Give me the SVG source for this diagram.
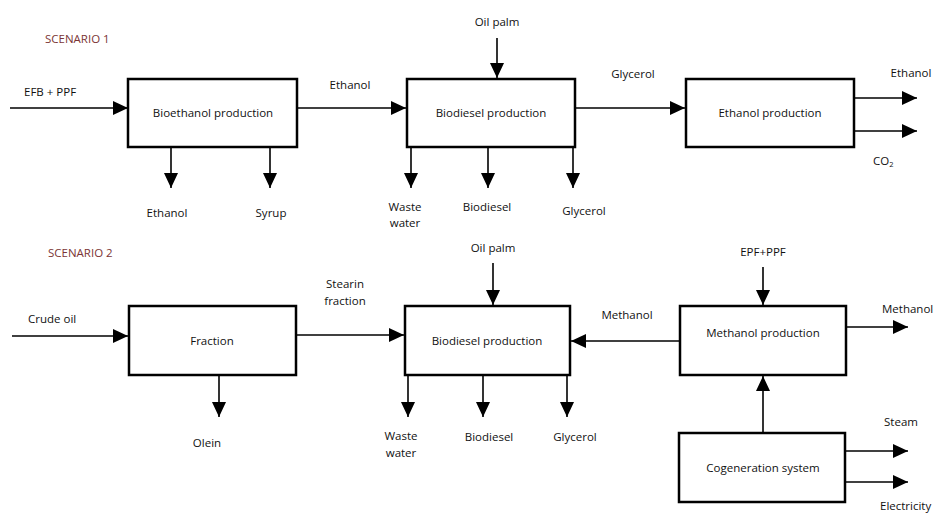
<svg xmlns="http://www.w3.org/2000/svg" width="937" height="516" viewBox="0 0 937 516">
<defs>
<marker id="ah" markerUnits="userSpaceOnUse" markerWidth="16" markerHeight="16" refX="15" refY="7" orient="auto">
<path d="M0,0 L15,7 L0,14 Z" fill="#000"/>
</marker>
<style>
text{font-family:"Open Sans","Noto Sans","Liberation Sans",sans-serif;font-size:11.5px;fill:#111}
.sc{fill:#7b3535}
.m{text-anchor:middle}
.box rect{fill:#fff;stroke:#000;stroke-width:2.5}
.c line{stroke:#000;stroke-width:1.6;fill:none}
.c line.a{marker-end:url(#ah)}
</style>
</defs>
<rect width="937" height="516" fill="#fff"/>
<text class="sc" x="45" y="43">SCENARIO 1</text>
<text class="sc" x="48" y="257">SCENARIO 2</text>

<g id="connectors" class="c">
<!-- scenario 1 -->
<line class="a" x1="10" y1="108" x2="128" y2="108"/>
<line class="a" x1="171" y1="147" x2="171" y2="188"/>
<line class="a" x1="270" y1="147" x2="270" y2="188"/>
<line class="a" x1="297" y1="108" x2="406" y2="108"/>
<line class="a" x1="497" y1="38" x2="497" y2="78"/>
<line class="a" x1="411" y1="147" x2="411" y2="188"/>
<line class="a" x1="488" y1="147" x2="488" y2="188"/>
<line class="a" x1="573" y1="147" x2="573" y2="188"/>
<line class="a" x1="575" y1="108" x2="685" y2="108"/>
<line class="a" x1="854" y1="98" x2="917" y2="98"/>
<line class="a" x1="852" y1="131" x2="917" y2="131"/>
<!-- scenario 2 -->
<line class="a" x1="12" y1="336" x2="128" y2="336"/>
<line class="a" x1="219" y1="375" x2="219" y2="417"/>
<line class="a" x1="296" y1="335" x2="404" y2="335"/>
<line class="a" x1="493" y1="263" x2="493" y2="305"/>
<line class="a" x1="408" y1="375" x2="408" y2="417"/>
<line class="a" x1="483" y1="375" x2="483" y2="417"/>
<line class="a" x1="567" y1="375" x2="567" y2="417"/>
<line class="a" x1="680" y1="341" x2="571" y2="341"/>
<line class="a" x1="763" y1="267" x2="763" y2="305"/>
<line class="a" x1="846" y1="327" x2="908" y2="327"/>
<line class="a" x1="763" y1="433" x2="763" y2="376"/>
<line class="a" x1="845" y1="451" x2="908" y2="451"/>
<line class="a" x1="845" y1="482" x2="908" y2="482"/>
</g>

<g id="bioethanol" class="box">
<rect x="128" y="79" width="169" height="68"/>
<text class="m" x="213" y="117">Bioethanol production</text>
</g>
<g id="biodiesel1" class="box">
<rect x="407" y="79" width="168" height="68"/>
<text class="m" x="491" y="117">Biodiesel production</text>
</g>
<g id="ethanolprod" class="box">
<rect x="686" y="79" width="168" height="68"/>
<text class="m" x="770" y="117">Ethanol production</text>
</g>
<g id="fraction" class="box">
<rect x="129" y="306" width="167" height="69"/>
<text class="m" x="212" y="345">Fraction</text>
</g>
<g id="biodiesel2" class="box">
<rect x="405" y="306" width="165" height="69"/>
<text class="m" x="487" y="345">Biodiesel production</text>
</g>
<g id="methanolprod" class="box">
<rect x="680" y="306" width="166" height="69"/>
<text class="m" x="763" y="337">Methanol production</text>
</g>
<g id="cogeneration" class="box">
<rect x="679" y="433" width="166" height="69"/>
<text class="m" x="763" y="472">Cogeneration system</text>
</g>

<g id="labels">
<text x="24" y="96">EFB + PPF</text>
<text class="m" x="167" y="217">Ethanol</text>
<text class="m" x="271" y="217">Syrup</text>
<text class="m" x="350" y="89">Ethanol</text>
<text class="m" x="497" y="26">Oil palm</text>
<text class="m" x="405" y="211">Waste</text>
<text class="m" x="405" y="227">water</text>
<text class="m" x="487" y="211">Biodiesel</text>
<text class="m" x="584" y="215">Glycerol</text>
<text class="m" x="633" y="78">Glycerol</text>
<text class="m" x="911" y="77">Ethanol</text>
<text x="873" y="165">CO<tspan font-size="7.5" dy="2">2</tspan></text>

<text x="28" y="323">Crude oil</text>
<text class="m" x="207" y="447">Olein</text>
<text class="m" x="345" y="288">Stearin</text>
<text class="m" x="345" y="305">fraction</text>
<text class="m" x="493" y="252">Oil palm</text>
<text class="m" x="401" y="440">Waste</text>
<text class="m" x="401" y="457">water</text>
<text class="m" x="489" y="441">Biodiesel</text>
<text class="m" x="575" y="441">Glycerol</text>
<text class="m" x="627" y="319">Methanol</text>
<text class="m" x="763" y="256">EPF+PPF</text>
<text x="882" y="313">Methanol</text>
<text class="m" x="901" y="426">Steam</text>
<text x="880" y="510">Electricity</text>
</g>
</svg>
